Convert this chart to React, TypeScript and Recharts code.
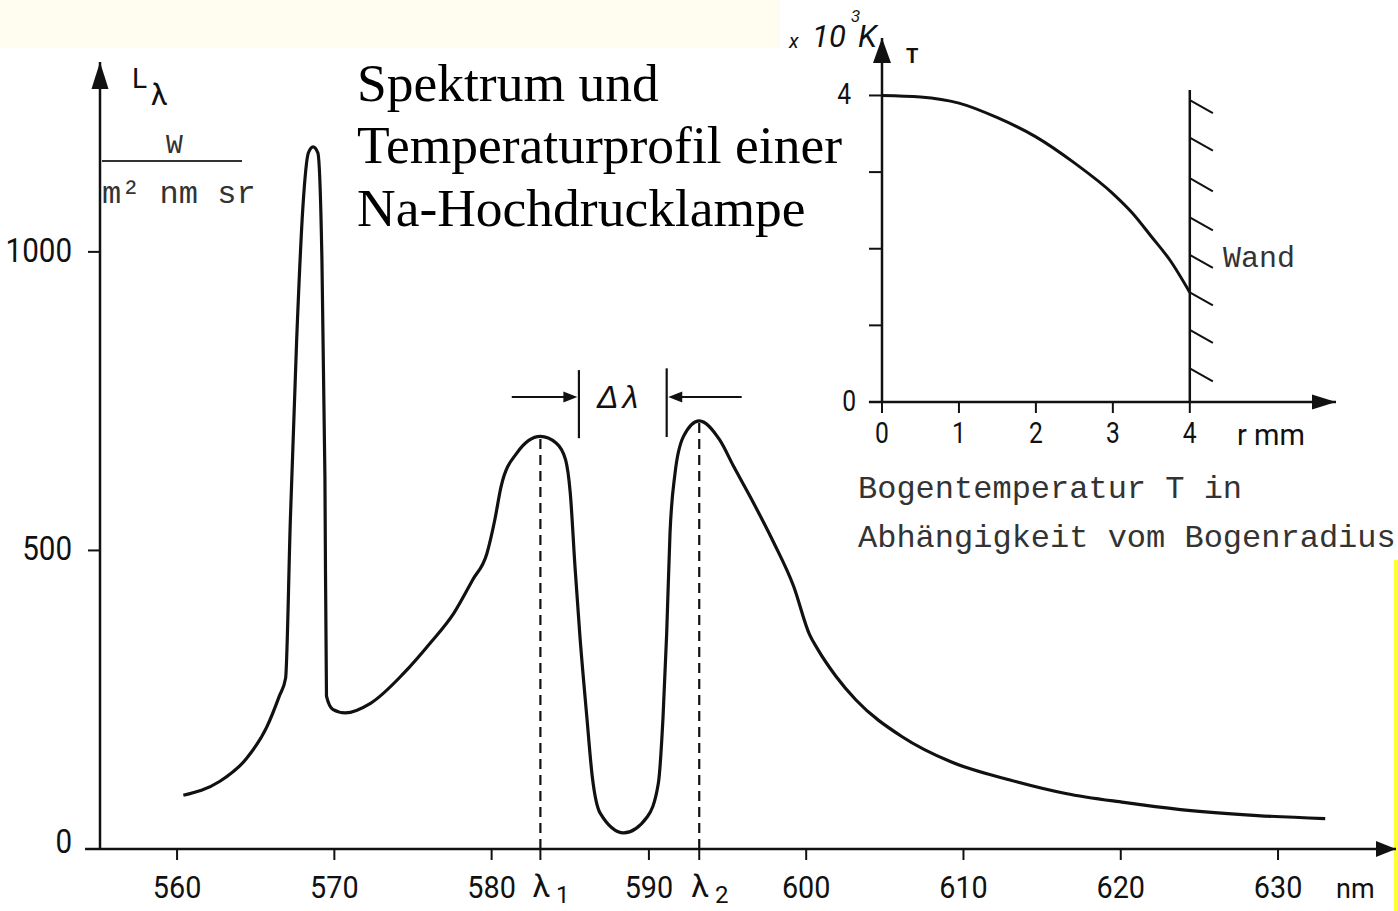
import React from "react";
import { LineChart, Line, XAxis, YAxis, ReferenceLine, ReferenceDot } from "recharts";

// Spektrum der Na-Hochdrucklampe
const wavelengthNm = [
  560.4, 562.7, 564.4, 565.7, 566.5, 566.9, 567.2, 567.6, 568.0, 568.35, 568.65, 568.95, 569.2, 569.4, 569.5,
  569.9, 570.7, 572.3, 574.4, 576.1, 577.6, 578.8, 579.7, 580.2, 580.6, 581.6, 583.1, 584.1, 584.7, 585.0,
  585.3, 585.6, 586.05, 586.4, 586.9, 588.4, 589.9, 590.6, 590.9, 591.13, 591.34, 591.66, 592.2, 593.2,
  594.5, 595.4, 596.6, 597.9, 599.2, 600.2, 600.7, 601.9, 603.15, 606.1, 609.2, 612.9, 616.5, 620.2, 623.8, 628.7, 633.0,
];
const radiance = [
  90, 113, 151, 204, 256, 286, 549, 850, 1075, 1166, 1176, 1166, 1000, 625, 256,
  234, 228, 244, 294, 345, 395, 451, 495, 551, 607, 663, 691, 680, 652, 596,
  473, 361, 222, 121, 60, 27, 54, 110, 222, 361, 528, 629, 691, 717,
  685, 640, 582, 515, 440, 360, 336, 289, 250, 188, 146, 116, 93, 78, 66, 56, 51,
];
const lambda1 = 583.1;
const lambda2 = 593.2;
const lambda1Peak = 691;
const lambda2Peak = 717;
const xTicks = [560, 570, 580, 590, 600, 610, 620, 630];
const yTicks = [0, 500, 1000];

// Bogentemperatur T (10^3 K) über Radius r (mm)
const radiusMm = [0, 0.5, 1, 1.5, 2, 2.5, 3, 3.25, 3.5, 3.75, 4];
const arcTemp = [4.0, 3.98, 3.9, 3.71, 3.46, 3.12, 2.72, 2.47, 2.16, 1.84, 1.43];
const rTicks = [0, 1, 2, 3, 4];
const tTicks = [0, 1, 2, 3, 4];
const wallHatchT = [3.94, 3.45, 2.92, 2.41, 1.92, 1.43, 0.94, 0.44];

const spectrum = wavelengthNm.map((nm, i) => ({ nm, L: radiance[i] }));
const profile = radiusMm.map((r, i) => ({ r, T: arcTemp[i] }));

const INK = "#111";

const arrowHead = (dir: string, len: number, half: number) => (p: any) => {
  const { cx, cy } = p;
  let pts = "";
  if (dir === "up") pts = `${cx},${cy} ${cx - half},${cy + len} ${cx + half},${cy + len}`;
  if (dir === "right") pts = `${cx},${cy} ${cx - len},${cy - half} ${cx - len},${cy + half}`;
  if (dir === "left") pts = `${cx},${cy} ${cx + len},${cy - half} ${cx + len},${cy + half}`;
  return <polygon points={pts} fill={INK} />;
};

const MainXTick = (props: any) => {
  const { x, y, payload } = props;
  const v = payload.value;
  if (v === lambda1 || v === lambda2) {
    return (
      <text x={x - 8} y={y + 35} fontFamily="Roboto" fontSize={32} fill={INK}>
        λ
        <tspan dx={6} dy={6} fontSize={24}>
          {v === lambda1 ? "1" : "2"}
        </tspan>
      </text>
    );
  }
  return (
    <text transform={`translate(${x},${y + 36}) scale(0.9,1)`} textAnchor="middle" fontFamily="Roboto" fontSize={32} fill={INK}>
      {v}
    </text>
  );
};

const MainYTick = (props: any) => {
  const { x, y, payload } = props;
  const dy = payload.value === 0 ? 4 : 10;
  return (
    <text transform={`translate(${x},${y + dy}) scale(0.87,1)`} textAnchor="end" fontFamily="Roboto" fontSize={34} fill={INK}>
      {payload.value}
    </text>
  );
};

const InsetXTick = (props: any) => {
  const { x, y, payload } = props;
  return (
    <text transform={`translate(${x},${y + 28}) scale(0.85,1)`} textAnchor="middle" fontFamily="Roboto" fontSize={29} fill={INK}>
      {payload.value}
    </text>
  );
};

const InsetYTick = (props: any) => {
  const { x, y, payload } = props;
  if (payload.value !== 0 && payload.value !== 4) return <g />;
  const dx = payload.value === 0 ? 5 : 0;
  return (
    <text transform={`translate(${x + dx},${y + 9}) scale(0.85,1)`} textAnchor="end" fontFamily="Roboto" fontSize={29} fill={INK}>
      {payload.value}
    </text>
  );
};

export default function App() {
  return (
    <div style={{ position: "absolute", left: 0, top: 0, width: 1398, height: 911, background: "#fff", overflow: "hidden" }}>
      <div style={{ position: "absolute", left: 0, top: 0, width: 780, height: 48, background: "#fffdf0" }} />
      <div style={{ position: "absolute", left: 1394, top: 560, width: 4, height: 351, background: "#ffff33" }} />

      <div style={{ position: "absolute", left: 0, top: 0 }}>
        <LineChart width={1398} height={911} data={spectrum} margin={{ top: 62, right: 2, bottom: 0, left: 0 }}>
          <XAxis
            dataKey="nm"
            type="number"
            domain={[555.1, 637.5]}
            ticks={[...xTicks, lambda1, lambda2]}
            interval={0}
            height={62}
            tickSize={11}
            axisLine={{ stroke: INK, strokeWidth: 2.5 }}
            tickLine={{ stroke: INK, strokeWidth: 2 }}
            tick={<MainXTick />}
            allowDataOverflow
          />
          <YAxis
            type="number"
            domain={[0, 1318]}
            ticks={yTicks}
            interval={0}
            width={100}
            tickSize={12}
            tickMargin={16}
            axisLine={{ stroke: INK, strokeWidth: 2.5 }}
            tickLine={{ stroke: INK, strokeWidth: 2 }}
            tick={<MainYTick />}
            allowDataOverflow
          />
          <ReferenceLine segment={[{ x: 554.15, y: 0 }, { x: 555.1, y: 0 }]} stroke={INK} strokeWidth={2.5} ifOverflow="visible" />
          <ReferenceDot x={555.1} y={1318} r={0} ifOverflow="visible" shape={arrowHead("up", 27, 8.5)} />
          <ReferenceDot x={637.5} y={0} r={0} ifOverflow="visible" shape={arrowHead("right", 20, 8)} />

          <ReferenceLine segment={[{ x: lambda1, y: 0 }, { x: lambda1, y: lambda1Peak }]} stroke={INK} strokeWidth={2.2} strokeDasharray="10 6" />
          <ReferenceLine segment={[{ x: lambda2, y: 0 }, { x: lambda2, y: lambda2Peak }]} stroke={INK} strokeWidth={2.2} strokeDasharray="10 6" />

          <ReferenceLine segment={[{ x: 585.55, y: 688 }, { x: 585.55, y: 802 }]} stroke={INK} strokeWidth={2.2} />
          <ReferenceLine segment={[{ x: 591.13, y: 690 }, { x: 591.13, y: 805 }]} stroke={INK} strokeWidth={2.2} />
          <ReferenceLine segment={[{ x: 581.28, y: 757 }, { x: 585.3, y: 757 }]} stroke={INK} strokeWidth={2} />
          <ReferenceLine segment={[{ x: 591.4, y: 757 }, { x: 595.9, y: 757 }]} stroke={INK} strokeWidth={2} />
          <ReferenceDot x={585.45} y={757} r={0} shape={arrowHead("right", 14, 5.5)} />
          <ReferenceDot x={591.23} y={757} r={0} shape={arrowHead("left", 14, 5.5)} />

          <Line dataKey="L" type="monotone" stroke={INK} strokeWidth={3.2} dot={false} isAnimationActive={false} />
        </LineChart>
      </div>

      <div style={{ position: "absolute", left: 780, top: 0 }}>
        <LineChart width={618} height={470} data={profile} margin={{ top: 38, right: 62, bottom: 18, left: 42 }}>
          <XAxis
            dataKey="r"
            type="number"
            domain={[0, 5.9]}
            ticks={rTicks}
            interval={0}
            height={50}
            tickSize={11}
            axisLine={{ stroke: INK, strokeWidth: 2.5 }}
            tickLine={{ stroke: INK, strokeWidth: 2 }}
            tick={<InsetXTick />}
            allowDataOverflow
          />
          <YAxis
            type="number"
            domain={[0, 4.75]}
            ticks={tTicks}
            interval={0}
            width={60}
            tickSize={13}
            tickMargin={18}
            axisLine={{ stroke: INK, strokeWidth: 2.5 }}
            tickLine={{ stroke: INK, strokeWidth: 2 }}
            tick={<InsetYTick />}
            allowDataOverflow
          />
          <ReferenceLine segment={[{ x: -0.17, y: 0 }, { x: 0, y: 0 }]} stroke={INK} strokeWidth={2.5} ifOverflow="visible" />
          <ReferenceDot x={0} y={4.75} r={0} ifOverflow="visible" shape={arrowHead("up", 25, 9)} />
          <ReferenceDot x={5.9} y={0} r={0} ifOverflow="visible" shape={arrowHead("right", 24, 7.5)} />
          <ReferenceLine segment={[{ x: 4, y: 0 }, { x: 4, y: 4.07 }]} stroke={INK} strokeWidth={2.5} />
          {wallHatchT.map((t) => (
            <ReferenceLine key={t} segment={[{ x: 4, y: t }, { x: 4.3, y: t - 0.17 }]} stroke={INK} strokeWidth={2} />
          ))}
          <Line dataKey="T" type="monotone" stroke={INK} strokeWidth={3} dot={false} isAnimationActive={false} />
        </LineChart>
      </div>

      <svg width={1398} height={911} style={{ position: "absolute", left: 0, top: 0, pointerEvents: "none" }}>
        <g fontFamily="'Liberation Serif', 'Times New Roman', serif" fontSize={53.5} fill="#000">
          <text x={357} y={101}>Spektrum und</text>
          <text x={357} y={163}>Temperaturprofil einer</text>
          <text x={357} y={226}>Na-Hochdrucklampe</text>
        </g>

        <text x={132} y={88} fontFamily="Roboto" fontSize={28} fill={INK}>L</text>
        <text x={151} y={105} fontFamily="Roboto" fontSize={30} fill={INK}>λ</text>
        <text x={166} y={153} fontFamily="'Liberation Mono', monospace" fontSize={28} fill="#333">W</text>
        <line x1={102} y1={161} x2={242} y2={161} stroke="#333" strokeWidth={2} />
        <text x={102} y={203} fontFamily="'Liberation Mono', monospace" fontSize={32} fill="#333">m² nm sr</text>

        <text x={1336} y={898} fontFamily="Roboto" fontSize={27} fill={INK}>nm</text>

        <text x={597} y={408} fontFamily="'Liberation Sans', sans-serif" fontStyle="italic" fontSize={32} letterSpacing={4} fill={INK}>Δλ</text>

        <text x={789} y={48} fontFamily="Roboto" fontStyle="italic" fontSize={20} fill={INK}>x</text>
        <text x={812} y={47} fontFamily="Roboto" fontStyle="italic" fontSize={31} fill={INK}>10</text>
        <text x={851} y={22} fontFamily="Roboto" fontStyle="italic" fontSize={17} fill={INK}>3</text>
        <text x={858} y={47} fontFamily="Roboto" fontStyle="italic" fontSize={31} fill={INK}>K</text>
        <text x={906} y={63} fontFamily="Roboto" fontWeight={700} fontSize={20} fill={INK}>T</text>
        <text x={1237} y={445} fontFamily="Roboto" fontSize={29} fill={INK}>r mm</text>
        <text x={1223} y={267} fontFamily="'Liberation Mono', monospace" fontSize={30} fill="#333">Wand</text>

        <g fontFamily="'Liberation Mono', monospace" fontSize={32} fill="#333">
          <text x={858} y={498}>Bogentemperatur T in</text>
          <text x={858} y={547}>Abhängigkeit vom Bogenradius</text>
        </g>
      </svg>
    </div>
  );
}
